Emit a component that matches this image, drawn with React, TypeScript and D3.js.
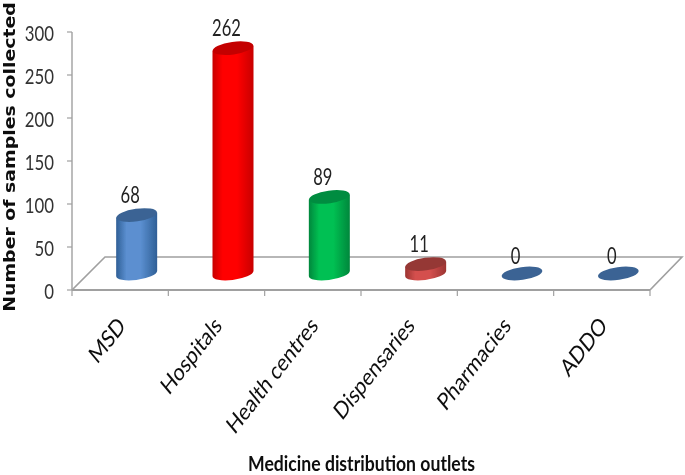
import React from "react";
import * as d3 from "d3";

const categories = ["MSD", "Hospitals", "Health centres", "Dispensaries", "Pharmacies", "ADDO"];
const values = [68, 262, 89, 11, 0, 0];
const yTicks = [0, 50, 100, 150, 200, 250, 300];
const palette = [
  { dark: "#2f5f96", mid: "#5b8fd0", top: "#3b6494" },
  { dark: "#c80000", mid: "#ff0000", top: "#c40000" },
  { dark: "#00873c", mid: "#00c052", top: "#008c40" },
  { dark: "#9c3432", mid: "#d4504e", top: "#953735" },
  { dark: "#2f5f96", mid: "#5b8fd0", top: "#3b6494" },
  { dark: "#2f5f96", mid: "#5b8fd0", top: "#3b6494" },
];

const W = 685, H = 475;
const x = d3.scaleBand<string>().domain(categories).range([72, 650]);
const y = d3.scaleLinear().domain([0, 300]).range([290, 32]);
const floorDepth = 16.5;
const wallDepth = 33;
const rx = 20.5, ry = 6.3, tilt = -8;
const font = "Lato, 'Liberation Sans', sans-serif";

function cylinder(cx: number, top: number, bottom: number) {
  return `M${cx - rx},${top + 2.5} L${cx - rx},${bottom + 2.5} A${rx},${ry} ${tilt} 0 0 ${cx + rx},${bottom - 2.5} L${cx + rx},${top - 2.5} Z`;
}

export default function App() {
  const axisColor = "#a0a0a0";
  const step = x.bandwidth();
  const [x0, x1] = x.range();
  return (
    <svg width={W} height={H} viewBox={`0 0 ${W} ${H}`} style={{ position: "absolute", left: 0, top: 0, background: "#fff" }}>
      <defs>
        <filter id="soft" x="-5%" y="-5%" width="110%" height="110%">
          <feGaussianBlur stdDeviation="0.45" />
        </filter>
        {palette.map((c, i) => (
          <linearGradient key={i} id={`g${i}`} x1="0" x2="1" y1="0" y2="0">
            <stop offset="0" stopColor={c.dark} />
            <stop offset="0.25" stopColor={c.mid} />
            <stop offset="0.6" stopColor={c.mid} />
            <stop offset="1" stopColor={c.dark} />
          </linearGradient>
        ))}
      </defs>
      <g filter="url(#soft)">
        <path
          d={`M${x0},${y(0)} L${x0 + wallDepth},${y(0) - wallDepth} L${x1 + wallDepth - 1},${y(0) - wallDepth} L${x1},${y(0)}`}
          fill="none" stroke={axisColor} strokeWidth={1.6}
        />
        <line x1={x0} x2={x0} y1={y(300)} y2={y(0)} stroke={axisColor} strokeWidth={1.4} />
        <line x1={x0} x2={x1} y1={y(0)} y2={y(0)} stroke={axisColor} strokeWidth={1.8} />
        {yTicks.map((t) => (
          <g key={t}>
            <line x1={x0 - 5} x2={x0} y1={y(t)} y2={y(t)} stroke={axisColor} strokeWidth={1.2} />
            <text transform={`translate(${x0 - 18},${y(t) + 9}) scale(0.78,1)`} textAnchor="end" fontFamily={font} fontSize={21.5} fill="#333">{t}</text>
          </g>
        ))}
        {[...categories.map((c) => x(c)!), x1].map((px, i) => (
          <line key={i} x1={px} x2={px} y1={y(0)} y2={y(0) + 6} stroke={axisColor} strokeWidth={1.2} />
        ))}
        {categories.map((c, i) => {
          const cx = x(c)! + step / 2 + floorDepth;
          const bottom = y(0) - floorDepth;
          const top = y(values[i]) - floorDepth;
          return (
            <g key={c}>
              {values[i] > 0 && <path d={cylinder(cx, top, bottom)} fill={`url(#g${i})`} />}
              <ellipse cx={cx} cy={top} rx={rx} ry={ry} transform={`rotate(${tilt} ${cx} ${top})`} fill={palette[i].top} />
              <text transform={`translate(${cx - 6.5},${top - (values[i] > 0 ? 12 : 10)}) scale(0.72,1)`} textAnchor="middle" fontFamily={font} fontSize={23} fill="#222">{values[i]}</text>
              <text
                transform={`translate(${cx - 10},${327}) rotate(-52) skewX(-12)`}
                textAnchor="end" fontFamily={font} fontSize={21.5} fill="#111"
              >{c}</text>
            </g>
          );
        })}
        <text transform="translate(361.5,471) scale(0.86,1)" textAnchor="middle" fontFamily={font} fontWeight="bold" fontSize={20.5} fill="#111">Medicine distribution outlets</text>
        <text transform="translate(15,157) rotate(-90) scale(1.22,1)" textAnchor="middle" fontFamily="'DejaVu Sans', sans-serif" fontWeight="bold" fontSize={15.5} fill="#111">Number of samples collected</text>
      </g>
    </svg>
  );
}
